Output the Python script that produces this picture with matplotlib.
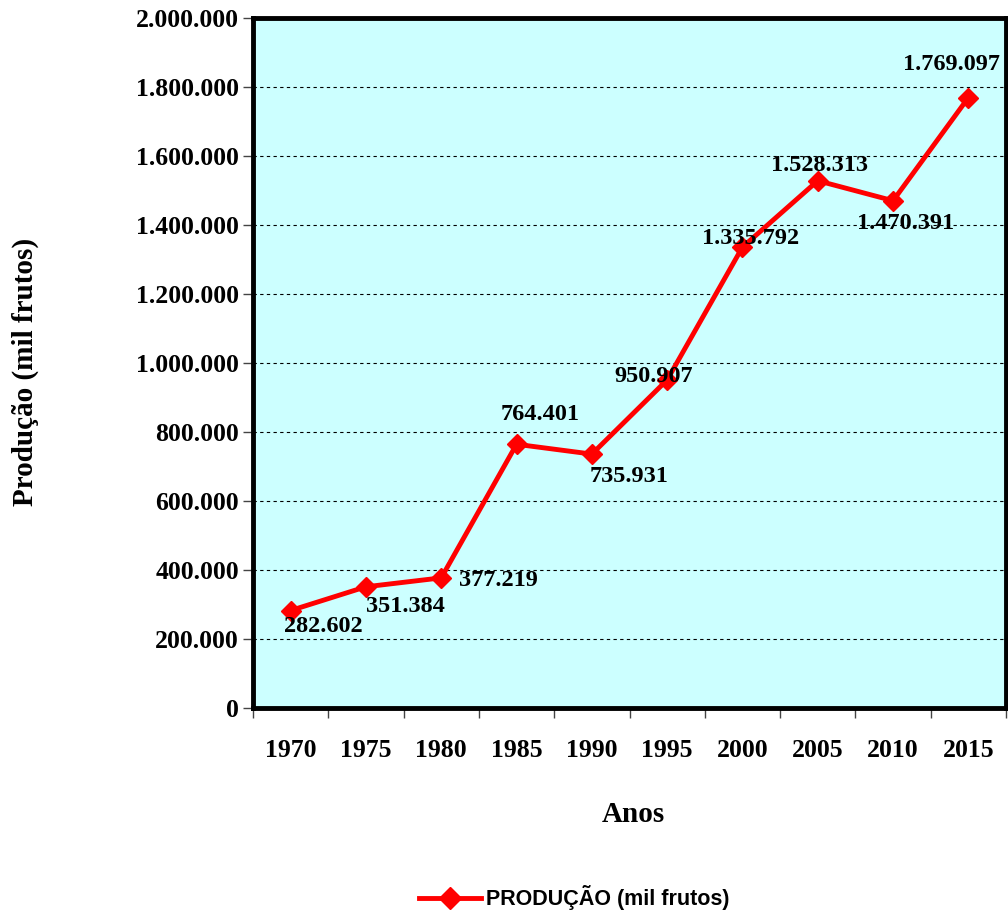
import matplotlib.pyplot as plt
from matplotlib.ticker import FixedLocator, FuncFormatter

anos = ['1970', '1975', '1980', '1985', '1990', '1995', '2000', '2005', '2010', '2015']
producao = [282602, 351384, 377219, 764401, 735931, 950907, 1335792, 1528313, 1470391, 1769097]
rotulos = ['282.602', '351.384', '377.219', '764.401', '735.931', '950.907',
           '1.335.792', '1.528.313', '1.470.391', '1.769.097']
# label offsets in pixels (dx, dy) relative to each point
desloc = [(33, -16), (39, -20), (57, -3), (24, 30), (37, -22), (-13, 3),
          (8, 9), (2, 15), (13, -23), (-17, 33)]

serif = ['Liberation Serif', 'DejaVu Serif']

fig = plt.figure(figsize=(10.08, 9.14), dpi=100)
ax = fig.add_axes([253/1008, 1 - 708/914, (1006 - 253)/1008, (708 - 18)/914])
ax.set_facecolor('#CCFFFF')

x = list(range(len(anos)))
ax.plot(x, producao, color='#FF0000', lw=3.5, marker='D', ms=10, mec='#FF0000',
        mfc='#FF0000', label='PRODUÇÃO (mil frutos)', zorder=3)

for xi, yi, txt, (dx, dy) in zip(x, producao, rotulos, desloc):
    ax.annotate(txt, (xi, yi), xytext=(dx, dy), textcoords='offset pixels',
                ha='center', va='center', fontsize=17.5, fontweight='bold',
                family=serif, zorder=4)

ax.set_xlim(-0.5, len(anos) - 0.5)
ax.set_ylim(0, 2000000)

ax.yaxis.set_major_locator(FixedLocator(range(0, 2000001, 200000)))
ax.yaxis.set_major_formatter(FuncFormatter(lambda v, p: f'{int(v):,}'.replace(',', '.')))
ax.grid(axis='y', color='black', linestyle=(0, (3, 3)), lw=0.8)
ax.set_axisbelow(True)

ax.xaxis.set_major_locator(FixedLocator([i - 0.5 for i in range(len(anos) + 1)]))
ax.xaxis.set_major_formatter(FuncFormatter(lambda v, p: ''))
ax.set_xticks(x, anos, minor=True)
ax.tick_params(axis='x', which='major', direction='out', length=7, width=1, color='#444444')
ax.tick_params(axis='x', which='minor', length=0, pad=22)
ax.tick_params(axis='y', direction='out', length=7, width=1, color='#444444', pad=3)

for lab in ax.get_yticklabels() + ax.get_xticklabels(minor=True):
    lab.set_fontsize(18.5)
    lab.set_fontweight('bold')
    lab.set_family(serif)

for s in ax.spines.values():
    s.set_linewidth(3.5)
    s.set_color('black')

fig.text(25/1008, 1 - 372/914, 'Produção (mil frutos)', rotation=90, ha='center', va='center',
         fontsize=21, fontweight='bold', family=serif)
fig.text(633/1008, 1 - 815/914, 'Anos', ha='center', va='center',
         fontsize=21, fontweight='bold', family=serif)

fig.legend(loc='center', bbox_to_anchor=(574/1008, 1 - 898/914), frameon=False,
           prop={'family': ['Liberation Sans', 'DejaVu Sans'], 'weight': 'bold', 'size': 15.5},
           handlelength=2.9, handletextpad=0.2, markerscale=1.1)

fig.savefig('out.png', dpi=100)
